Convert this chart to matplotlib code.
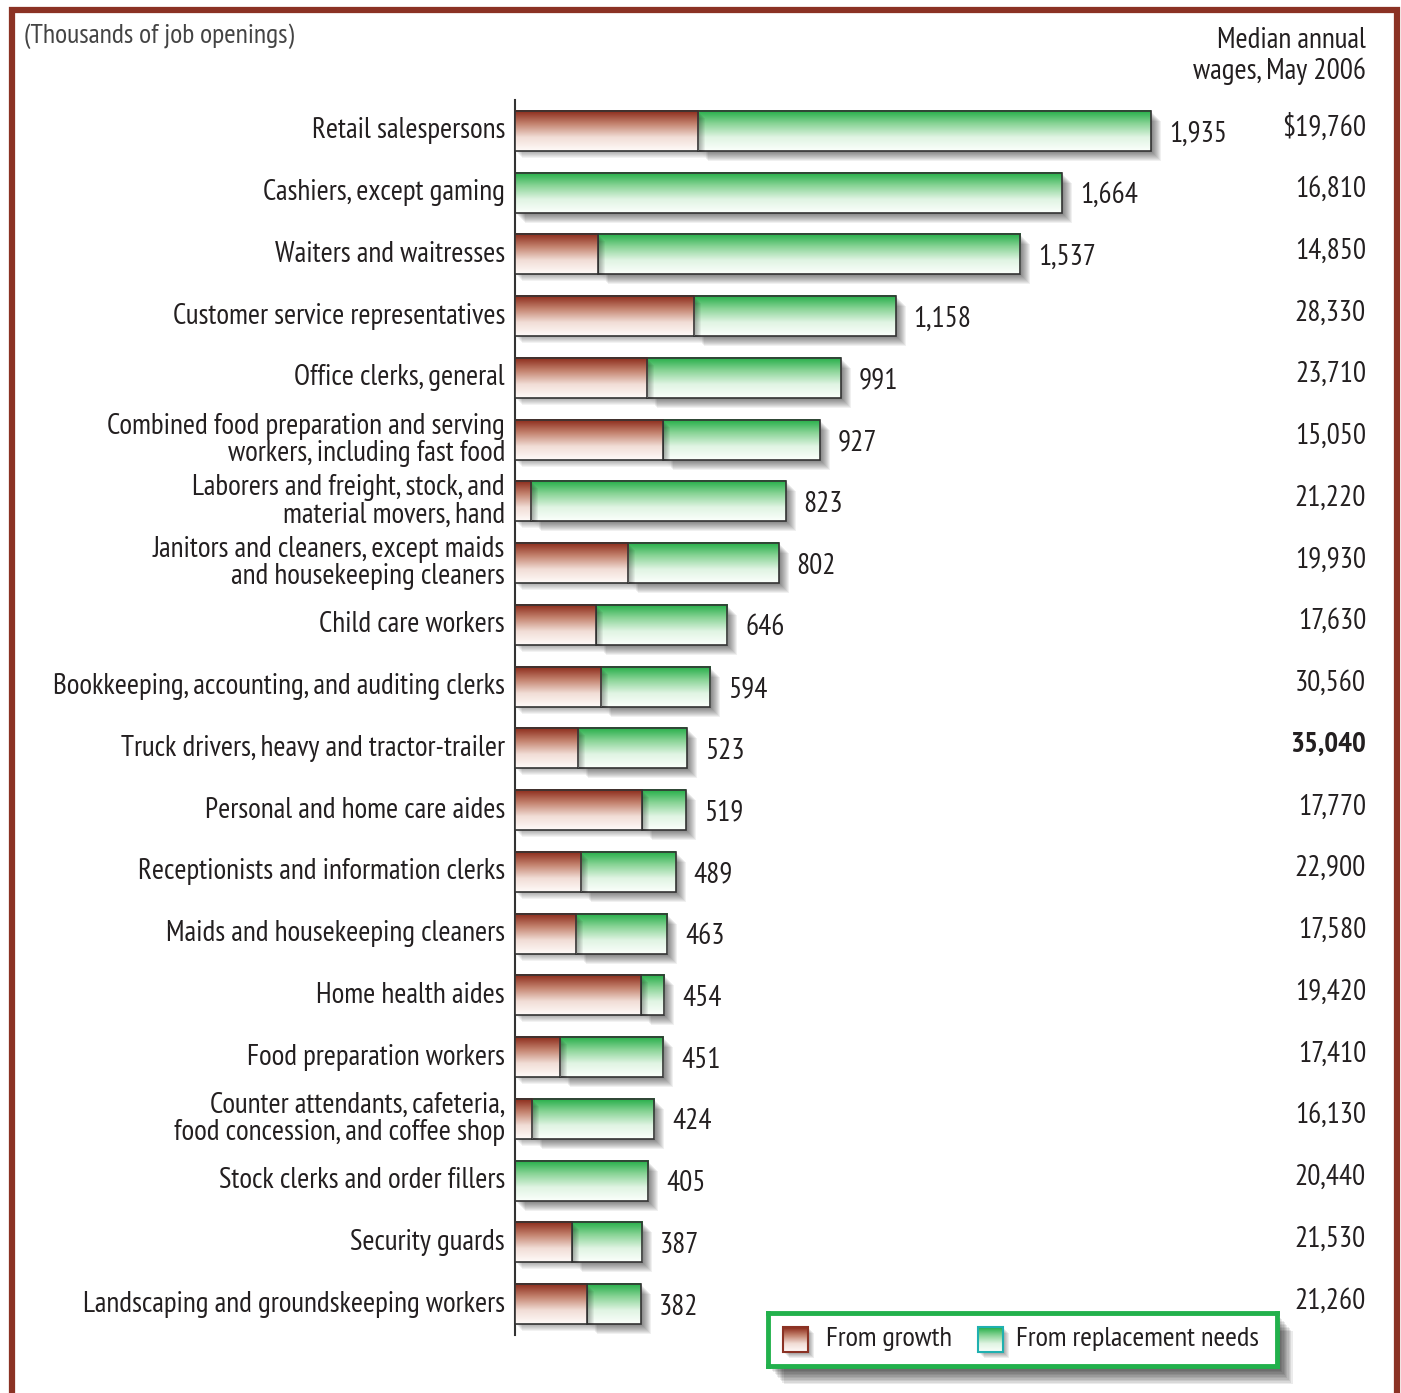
import matplotlib

matplotlib.use("Agg")
import matplotlib.pyplot as plt
import numpy as np
from matplotlib.colors import LinearSegmentedColormap
from matplotlib.patches import Rectangle

plt.rcParams["font.family"] = ["PT Sans Narrow", "Roboto Condensed", "DejaVu Sans"]

occupations = [
    "Retail salespersons",
    "Cashiers, except gaming",
    "Waiters and waitresses",
    "Customer service representatives",
    "Office clerks, general",
    "Combined food preparation and serving\nworkers, including fast food",
    "Laborers and freight, stock, and\nmaterial movers, hand",
    "Janitors and cleaners, except maids\nand housekeeping cleaners",
    "Child care workers",
    "Bookkeeping, accounting, and auditing clerks",
    "Truck drivers, heavy and tractor-trailer",
    "Personal and home care aides",
    "Receptionists and information clerks",
    "Maids and housekeeping cleaners",
    "Home health aides",
    "Food preparation workers",
    "Counter attendants, cafeteria,\nfood concession, and coffee shop",
    "Stock clerks and order fillers",
    "Security guards",
    "Landscaping and groundskeeping workers",
]
total_openings = [1935, 1664, 1537, 1158, 991, 927, 823, 802, 646, 594,
                  523, 519, 489, 463, 454, 451, 424, 405, 387, 382]
from_growth = [557, 0, 252, 545, 402, 450, 49, 344, 246, 262,
               192, 386, 201, 186, 383, 137, 52, 0, 173, 219]
wages = ["$19,760", "16,810", "14,850", "28,330", "23,710", "15,050", "21,220",
         "19,930", "17,630", "30,560", "35,040", "17,770", "22,900", "17,580",
         "19,420", "17,410", "16,130", "20,440", "21,530", "21,260"]
highest_wage = "35,040"

W, H = 1401, 1393
RED_CMAP = LinearSegmentedColormap.from_list("red", ["#8a2818", "#c4836f", "#f1ddd6", "#fffaf8"])
GREEN_CMAP = LinearSegmentedColormap.from_list("green", ["#22ad46", "#8ad497", "#e0f4e3", "#fbfffb"])
TEXT = "#231f20"
FS = 21


def fig_rect(x0, y0, x1, y1):
    return [x0 / W, 1 - y1 / H, (x1 - x0) / W, (y1 - y0) / H]


def gradient(ax, x0, x1, y0, y1, cmap, zorder):
    grad = np.linspace(0, 1, 80).reshape(-1, 1)
    ax.imshow(grad, cmap=cmap, aspect="auto", extent=(x0, x1, y1, y0),
              origin="upper", interpolation="bilinear", zorder=zorder)


def shadow(ax, x0, x1, y0, y1, px_x, px_y, zorder, steps=10, alpha=0.06):
    for k in range(1, steps + 1):
        ax.add_patch(Rectangle((x0 + k * px_x, y0 + k * px_y), x1 - x0, y1 - y0,
                               facecolor="black", edgecolor="none", alpha=alpha, zorder=zorder))


fig = plt.figure(figsize=(W / 100, H / 100), dpi=100)
fig.patches.append(Rectangle((12 / W, -0.1), (1397 - 12) / W, 1.1 - 10 / H, transform=fig.transFigure,
                             facecolor="none", edgecolor="#8b3224", linewidth=4.5, zorder=0))

ax = fig.add_axes(fig_rect(515, 100, 1380, 1335))
xmax = 865 / 0.3287
n = len(occupations)
px_x = xmax / 865
px_y = n / 1235
bar_h = 0.65

for i in range(n):
    y0, y1 = i - bar_h / 2, i + bar_h / 2
    g = from_growth[i]
    t = total_openings[i]
    shadow(ax, g, t, y0, y1, px_x, px_y, 1)
    gradient(ax, g, t, y0, y1, GREEN_CMAP, 2)
    ax.add_patch(Rectangle((g, y0), t - g, bar_h, facecolor="none", edgecolor="#333333", linewidth=1.2, zorder=3))
    if g > 0:
        shadow(ax, 0, g, y0, y1, px_x, px_y, 4, steps=7, alpha=0.05)
        gradient(ax, 0, g, y0, y1, RED_CMAP, 5)
        ax.add_patch(Rectangle((0, y0), g, bar_h, facecolor="none", edgecolor="#333333", linewidth=1.2, zorder=6))
    ax.text(t + 18 * px_x, i + 0.05, f"{t:,}", ha="left", va="center", fontsize=FS, color=TEXT)
    ax.text(-10 * px_x, i, occupations[i], ha="right", va="center", fontsize=FS, color=TEXT,
            linespacing=1.0)
    fig.text(1366 / W, 1 - (100 + (i + 0.45) * 1235 / n) / H, wages[i], ha="right", va="center",
             fontsize=FS, color=TEXT, fontweight="bold" if wages[i] == highest_wage else "normal")

ax.set_xlim(0, xmax)
ax.set_ylim(n - 0.5, -0.5)
ax.set_xticks([])
ax.set_yticks([])
for side in ["top", "right", "bottom"]:
    ax.spines[side].set_visible(False)
ax.spines["left"].set_color("#333333")
ax.spines["left"].set_linewidth(1.5)
ax.patch.set_alpha(0)

fig.text(24 / W, 1 - 36 / H, "(Thousands of job openings)", ha="left", va="center", fontsize=FS - 1, color="#444444")
fig.text(1366 / W, 1 - 56 / H, "Median annual\nwages, May 2006", ha="right", va="center", fontsize=FS,
         color=TEXT, linespacing=1.15)

# legend box with a soft shadow
for k in range(1, 13):
    fig.patches.append(Rectangle(((768 + k * 1.3) / W, 1 - (1366 + k * 1.5) / H), 509 / W, 53 / H,
                                 transform=fig.transFigure, facecolor="black", edgecolor="none",
                                 alpha=0.08, zorder=1))
lax = fig.add_axes(fig_rect(768, 1313, 1277, 1366))
lax.set_zorder(2)
lax.set_xticks([])
lax.set_yticks([])
for s in lax.spines.values():
    s.set_color("#22b14c")
    s.set_linewidth(3.5)
lax.set_facecolor("white")
for x0, gap, cmap, edge, label in [(15, 43, RED_CMAP, "#8b3224", "From growth"),
                                   (210, 38, GREEN_CMAP, "#1fb0b0", "From replacement needs")]:
    shadow(lax, x0, x0 + 25, 14, 39, 1, 1, 1, steps=6, alpha=0.07)
    gradient(lax, x0, x0 + 25, 14, 39, cmap, 2)
    lax.add_patch(Rectangle((x0, 14), 25, 25, facecolor="none", edgecolor=edge, linewidth=1.5, zorder=3))
    lax.text(x0 + gap, 26, label, ha="left", va="center", fontsize=FS - 0.5, color=TEXT)
lax.set_xlim(0, 509)
lax.set_ylim(53, 0)

fig.savefig("out.png", dpi=100)
